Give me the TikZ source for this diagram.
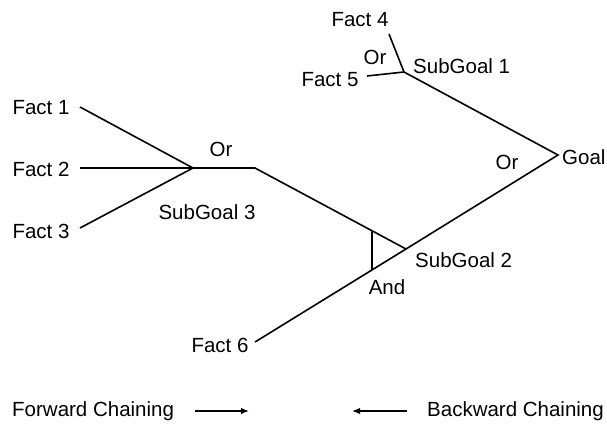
\documentclass[tikz,border=0pt]{standalone}
\usepackage{fontspec}
\setmainfont{Liberation Sans}
\usetikzlibrary{arrows.meta}
\begin{document}
\begin{tikzpicture}[x=1pt,y=-1pt,
  lbl/.style={inner sep=0pt,font=\fontsize{20.5}{24}\selectfont},
  ln/.style={line width=1.6pt,line join=miter},
  arr/.style={line width=1.4pt,-{Latex[length=8pt,width=6.5pt]}}]
\useasboundingbox (0,0) rectangle (607,423);
% junction coordinates
\coordinate (goal) at (558,155);
\coordinate (sg1) at (404,72);
\coordinate (sg2) at (406,249);
\coordinate (sg3) at (193,168);
\coordinate (bend) at (255,168);
\coordinate (andtop) at (372,231);
\coordinate (andbot) at (372,270);
% free ends of fact lines
\coordinate (e1) at (80,107);
\coordinate (e2) at (80,168);
\coordinate (e3) at (80,228);
\coordinate (e4) at (389,34);
\coordinate (e5) at (367,76);
\coordinate (e6) at (255,342);
% texts
\node[lbl] (t1) at (41,108) {Fact 1};
\node[lbl] (t2) at (41,169) {Fact 2};
\node[lbl] (t3) at (41,231) {Fact 3};
\node[lbl] (t4) at (360,20) {Fact 4};
\node[lbl] (t5) at (330,80) {Fact 5};
\node[lbl] (t6) at (220,345) {Fact 6};
\node[lbl] (tsg3) at (207,212) {SubGoal 3};
\node[lbl] (tor3) at (221,149) {Or};
\node[lbl,anchor=west] (tsg1) at (413,66) {SubGoal 1};
\node[lbl] (tor1) at (375,57) {Or};
\node[lbl,anchor=west] (tsg2) at (415,260) {SubGoal 2};
\node[lbl] (tand) at (387,287) {And};
\node[lbl,anchor=west] (tgoal) at (562,157) {Goal};
\node[lbl] (torg) at (507,162) {Or};
% lines
\draw[ln] (e1) -- (sg3);
\draw[ln] (e2) -- (sg3);
\draw[ln] (e3) -- (sg3);
\draw[ln] (sg3) -- (bend) -- (sg2);
\draw[ln] (e4) -- (sg1);
\draw[ln] (e5) -- (sg1);
\draw[ln] (sg1) -- (goal) -- (sg2) -- (e6);
\draw[ln] (andtop) -- (andbot);
% legend
\node[lbl,anchor=west] (fwd) at (12,411) {Forward Chaining};
\node[lbl,anchor=east] (bwd) at (604,411) {Backward Chaining};
\coordinate (fa1) at (195,411);
\coordinate (fa2) at (249,411);
\coordinate (ba1) at (407,411);
\coordinate (ba2) at (352,411);
\draw[arr] (fa1) -- (fa2);
\draw[arr] (ba1) -- (ba2);
\end{tikzpicture}
\end{document}
